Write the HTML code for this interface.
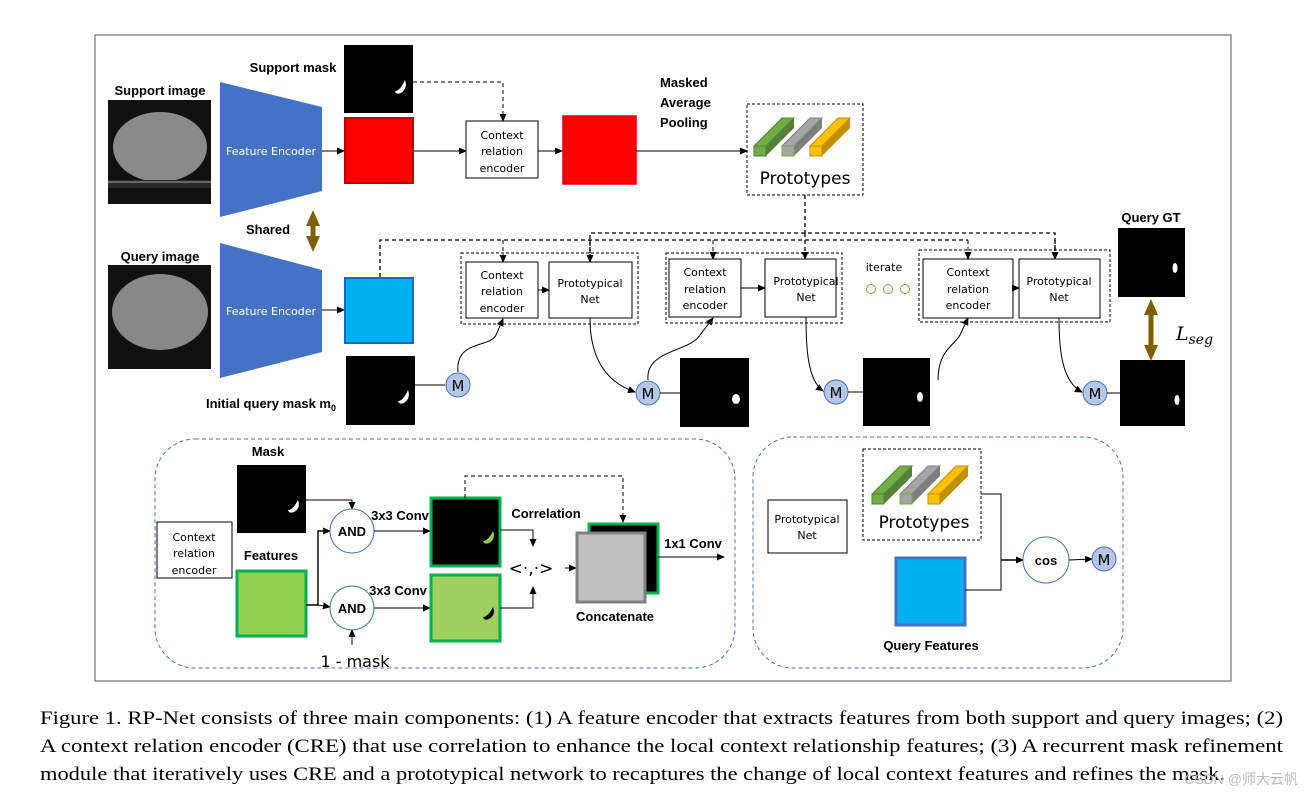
<!DOCTYPE html>
<html><head><meta charset="utf-8"><style>
html,body{margin:0;padding:0;background:#fff;width:1314px;height:797px;overflow:hidden}
svg{display:block}
.b{font-family:"Liberation Sans",sans-serif;font-weight:bold;font-size:13px;fill:#000}
.s{font-family:"DejaVu Sans","Liberation Sans",sans-serif;font-size:11px;fill:#000}
.cap{font-family:"Liberation Serif",serif;font-size:19px;fill:#000}
</style></head><body>
<svg width="1314" height="797" viewBox="0 0 1314 797" xmlns="http://www.w3.org/2000/svg">
<defs>
<marker id="a" markerWidth="8" markerHeight="8" refX="7" refY="4" orient="auto" markerUnits="userSpaceOnUse"><path d="M0,0.5 L8,4 L0,7.5z" fill="#000"/></marker>
<marker id="bu" markerWidth="16" markerHeight="14" refX="8" refY="7" orient="auto-start-reverse" markerUnits="userSpaceOnUse"><path d="M0,0 L16,7 L0,14z" fill="#7f6000"/></marker>
<g id="proto">
<polygon points="0,38 12,38 40,10 28,10" fill="#70ad47" stroke="#548235"/>
<polygon points="12,38 12,48 40,20 40,10" fill="#548235"/>
<rect x="0" y="38" width="12" height="10" fill="#70ad47" stroke="#548235"/>
<polygon points="28,38 40,38 68,10 56,10" fill="#a5a5a5" stroke="#7f7f7f"/>
<polygon points="40,38 40,48 68,20 68,10" fill="#7f7f7f"/>
<rect x="28" y="38" width="12" height="10" fill="#a5a5a5" stroke="#70ad47"/>
<polygon points="56,38 68,38 96,10 84,10" fill="#ffc000" stroke="#bf9000"/>
<polygon points="68,38 68,48 96,20 96,10" fill="#bf9000"/>
<rect x="56" y="38" width="12" height="10" fill="#ffc000" stroke="#bf9000"/>
</g>
</defs>
<rect x="95" y="35" width="1136" height="646" fill="none" stroke="#555" stroke-width="1"/>

<text class="b" x="160" y="95" text-anchor="middle" font-size="12">Support image</text>
<rect x="108" y="100" width="103" height="104" fill="#111"/>
<ellipse cx="160" cy="147" rx="47" ry="35" fill="#8a8a8a"/>
<rect x="108" y="180" width="103" height="8" fill="#2a2a2a"/>
<rect x="108" y="181" width="103" height="2" fill="#666"/>
<text class="b" x="160" y="261" text-anchor="middle" font-size="12">Query image</text>
<rect x="108" y="265" width="103" height="104" fill="#111"/>
<ellipse cx="160" cy="312" rx="48" ry="38" fill="#888"/>
<polygon points="220,82 322,107 322,191 220,217" fill="#4472c4"/>
<text x="271" y="155" text-anchor="middle" font-family="DejaVu Sans,sans-serif" font-size="11" fill="#fff">Feature Encoder</text>
<polygon points="220,243 322,270 322,352 220,378" fill="#4472c4"/>
<text x="271" y="315" text-anchor="middle" font-family="DejaVu Sans,sans-serif" font-size="11" fill="#fff">Feature Encoder</text>
<line x1="313" y1="218" x2="313" y2="244" stroke="#7f6000" stroke-width="5" marker-start="url(#bu)" marker-end="url(#bu)"/>
<text class="b" x="268" y="234" text-anchor="middle" font-size="14">Shared</text>

<text class="b" x="293" y="72" text-anchor="middle" font-size="12">Support mask</text>
<rect x="344" y="45" width="69" height="68" fill="#000"/>
<path d="M405,80 q3,8 -4,13 q-5,2 -6,-2 q5,0 10,-11z" fill="#fff"/>
<line x1="322" y1="151" x2="344" y2="151" stroke="#000" marker-end="url(#a)"/>
<rect x="345" y="118" width="68" height="65" fill="#ff0000" stroke="#c00000" stroke-width="2"/>
<line x1="414" y1="151" x2="466" y2="151" stroke="#000" marker-end="url(#a)"/>
<polyline points="413,82 503,82 503,121" fill="none" stroke="#000" stroke-dasharray="4,3" marker-end="url(#a)"/>
<rect x="466" y="121" width="72" height="57" fill="#fff" stroke="#000"/>
<text class="s" x="502" y="139" text-anchor="middle">Context</text>
<text class="s" x="502" y="155" text-anchor="middle">relation</text>
<text class="s" x="502" y="172" text-anchor="middle">encoder</text>
<line x1="538" y1="151" x2="562" y2="151" stroke="#000" marker-end="url(#a)"/>
<rect x="563" y="116" width="73" height="68" fill="#ff0000" stroke="#e00000" stroke-width="1.5"/>
<line x1="636" y1="151" x2="747" y2="151" stroke="#000" marker-end="url(#a)"/>
<text class="b" x="660" y="87">Masked</text>
<text class="b" x="660" y="107">Average</text>
<text class="b" x="660" y="127">Pooling</text>
<rect x="747" y="104" width="116" height="91" fill="none" stroke="#000" stroke-dasharray="3,2"/>
<use href="#proto" x="754" y="108"/>
<text x="805" y="184" text-anchor="middle" font-family="DejaVu Sans,sans-serif" font-size="17">Prototypes</text>

<polyline points="805,195 805,233" fill="none" stroke="#000" stroke-dasharray="4,3" stroke-width="1.3"/>
<polyline points="590,253 590,233 1055,233 1055,261" fill="none" stroke="#000" stroke-dasharray="4,3" stroke-width="1.3"/>
<line x1="805" y1="233" x2="805" y2="259" stroke="#000" stroke-dasharray="4,3" stroke-width="1.3" marker-end="url(#a)"/>
<line x1="590" y1="240" x2="590" y2="262" stroke="#000" stroke-dasharray="4,3" stroke-width="1.3" marker-end="url(#a)"/>
<line x1="1055" y1="240" x2="1055" y2="259" stroke="#000" stroke-dasharray="4,3" stroke-width="1.3" marker-end="url(#a)"/>
<polyline points="380,277 380,240 968,240" fill="none" stroke="#000" stroke-dasharray="4,3" stroke-width="1.3"/>
<line x1="503" y1="240" x2="503" y2="262" stroke="#000" stroke-dasharray="4,3" marker-end="url(#a)"/>
<line x1="713" y1="240" x2="713" y2="259" stroke="#000" stroke-dasharray="4,3" marker-end="url(#a)"/>
<line x1="968" y1="240" x2="968" y2="259" stroke="#000" stroke-dasharray="4,3" marker-end="url(#a)"/>

<line x1="322" y1="310" x2="344" y2="310" stroke="#000" marker-end="url(#a)"/>
<rect x="345" y="278" width="68" height="65" fill="#00b0f0" stroke="#0070c0" stroke-width="2"/>
<rect x="346" y="356" width="69" height="69" fill="#000"/>
<path d="M408,390 q3,8 -4,13 q-5,2 -6,-2 q5,0 10,-11z" fill="#fff"/>
<text class="b" x="206" y="408" font-size="12">Initial query mask m<tspan font-size="9" dy="3">0</tspan></text>
<line x1="415" y1="385" x2="445" y2="385" stroke="#000"/>

<rect x="461" y="253" width="177" height="71" fill="none" stroke="#000" stroke-dasharray="3,2"/>
<rect x="466" y="262" width="72" height="56" fill="#fff" stroke="#000"/>
<text class="s" x="502" y="279" text-anchor="middle">Context</text>
<text class="s" x="502" y="295" text-anchor="middle">relation</text>
<text class="s" x="502" y="312" text-anchor="middle">encoder</text>
<line x1="538" y1="290" x2="549" y2="290" stroke="#000" marker-end="url(#a)"/>
<rect x="549" y="262" width="83" height="56" fill="#fff" stroke="#000"/>
<text class="s" x="590" y="287" text-anchor="middle">Prototypical</text>
<text class="s" x="590" y="303" text-anchor="middle">Net</text>
<path d="M458,372 C455,340 490,348 496,335 L503,319" fill="none" stroke="#000" marker-end="url(#a)"/>
<path d="M590,318 C590,350 600,380 635,392" fill="none" stroke="#000" marker-end="url(#a)"/>

<rect x="666" y="253" width="176" height="70" fill="none" stroke="#000" stroke-dasharray="3,2"/>
<rect x="669" y="259" width="72" height="58" fill="#fff" stroke="#000"/>
<text class="s" x="705" y="276" text-anchor="middle">Context</text>
<text class="s" x="705" y="293" text-anchor="middle">relation</text>
<text class="s" x="705" y="309" text-anchor="middle">encoder</text>
<line x1="741" y1="288" x2="765" y2="288" stroke="#000" marker-end="url(#a)"/>
<rect x="765" y="259" width="71" height="58" fill="#fff" stroke="#000"/>
<text class="s" x="806" y="285" text-anchor="middle">Prototypical</text>
<text class="s" x="806" y="301" text-anchor="middle">Net</text>
<path d="M648,380 C645,350 690,352 700,335 L713,318" fill="none" stroke="#000" marker-end="url(#a)"/>
<path d="M806,317 C806,350 808,380 823,391" fill="none" stroke="#000" marker-end="url(#a)"/>
<text class="s" x="884" y="271" text-anchor="middle" font-size="12">iterate</text>
<circle cx="871" cy="289" r="4.5" fill="none" stroke="#70ad47"/>
<circle cx="888" cy="289" r="4.5" fill="none" stroke="#70ad47"/>
<circle cx="905" cy="289" r="4.5" fill="none" stroke="#70ad47"/>

<rect x="919" y="250" width="191" height="72" fill="none" stroke="#000" stroke-dasharray="3,2"/>
<rect x="923" y="259" width="90" height="59" fill="#fff" stroke="#000"/>
<text class="s" x="968" y="276" text-anchor="middle">Context</text>
<text class="s" x="968" y="293" text-anchor="middle">relation</text>
<text class="s" x="968" y="309" text-anchor="middle">encoder</text>
<line x1="1013" y1="288" x2="1019" y2="288" stroke="#000" marker-end="url(#a)"/>
<rect x="1019" y="259" width="81" height="59" fill="#fff" stroke="#000"/>
<text class="s" x="1059" y="285" text-anchor="middle">Prototypical</text>
<text class="s" x="1059" y="301" text-anchor="middle">Net</text>
<path d="M938,380 C938,350 955,345 960,335 L968,318" fill="none" stroke="#000" marker-end="url(#a)"/>
<path d="M1059,318 C1059,350 1062,382 1082,392" fill="none" stroke="#000" marker-end="url(#a)"/>

<g font-family="DejaVu Sans,sans-serif" font-size="15" text-anchor="middle">
<circle cx="458" cy="385" r="12" fill="#b4c7e7" stroke="#4472c4"/><text x="458" y="391">M</text>
<circle cx="648" cy="393" r="12" fill="#b4c7e7" stroke="#4472c4"/><text x="648" y="399">M</text>
<circle cx="836" cy="392" r="12" fill="#b4c7e7" stroke="#4472c4"/><text x="836" y="398">M</text>
<circle cx="1095" cy="393" r="12" fill="#b4c7e7" stroke="#4472c4"/><text x="1095" y="399">M</text>
</g>
<line x1="660" y1="393" x2="680" y2="393" stroke="#000"/>
<rect x="680" y="358" width="69" height="69" fill="#000"/>
<ellipse cx="736" cy="399" rx="4" ry="5" fill="#fff"/>
<line x1="848" y1="392" x2="863" y2="392" stroke="#000"/>
<rect x="863" y="358" width="67" height="68" fill="#000"/>
<ellipse cx="920" cy="397" rx="3" ry="5" fill="#fff"/>
<line x1="1107" y1="393" x2="1120" y2="393" stroke="#000"/>
<rect x="1120" y="360" width="65" height="66" fill="#000"/>
<ellipse cx="1177" cy="400" rx="2.5" ry="5" fill="#fff"/>
<text class="b" x="1151" y="222" text-anchor="middle" font-size="13">Query GT</text>
<rect x="1118" y="228" width="67" height="69" fill="#000"/>
<ellipse cx="1175" cy="268" rx="2.5" ry="5" fill="#fff"/>
<line x1="1151" y1="307" x2="1151" y2="353" stroke="#7f6000" stroke-width="5" marker-start="url(#bu)" marker-end="url(#bu)"/>
<text x="1176" y="340" font-family="DejaVu Serif,serif" font-style="italic" font-size="19">L<tspan font-size="14" dy="4">seg</tspan></text>

<rect x="155" y="439" width="580" height="229" rx="40" fill="none" stroke="#4472c4" stroke-dasharray="4,3"/>
<rect x="157" y="522" width="75" height="56" fill="#fff" stroke="#000"/>
<text class="s" x="194" y="541" text-anchor="middle">Context</text>
<text class="s" x="194" y="557" text-anchor="middle">relation</text>
<text class="s" x="194" y="574" text-anchor="middle">encoder</text>
<text class="b" x="268" y="456" text-anchor="middle" font-size="14">Mask</text>
<rect x="237" y="465" width="69" height="68" fill="#000"/>
<path d="M298,500 q3,8 -4,12 q-5,2 -6,-2 q5,0 10,-10z" fill="#fff"/>
<text class="b" x="271" y="560" text-anchor="middle" font-size="14">Features</text>
<rect x="237" y="571" width="69" height="65" fill="#92d050" stroke="#00b050" stroke-width="3"/>
<polyline points="306,500 352,500 352,509" fill="none" stroke="#000" marker-end="url(#a)"/>
<polyline points="306,605 318,605 318,531 330,531" fill="none" stroke="#000" stroke-width="1.4" marker-end="url(#a)"/>
<line x1="318" y1="605" x2="330" y2="607" stroke="#000" marker-end="url(#a)"/>
<circle cx="352" cy="531" r="22" fill="#fff" stroke="#4472c4"/>
<text class="b" x="352" y="536" text-anchor="middle" font-size="14">AND</text>
<circle cx="352" cy="608" r="22" fill="#fff" stroke="#4472c4"/>
<text class="b" x="352" y="613" text-anchor="middle" font-size="14">AND</text>
<line x1="352" y1="645" x2="352" y2="630" stroke="#000" marker-end="url(#a)"/>
<text x="355" y="667" text-anchor="middle" font-family="DejaVu Sans,sans-serif" font-size="16">1 - mask</text>
<text class="b" x="400" y="520" text-anchor="middle" font-size="11">3x3 Conv</text>
<text class="b" x="398" y="595" text-anchor="middle" font-size="11">3x3 Conv</text>
<line x1="374" y1="531" x2="430" y2="531" stroke="#000" marker-end="url(#a)"/>
<line x1="374" y1="608" x2="430" y2="608" stroke="#000" marker-end="url(#a)"/>
<rect x="431" y="498" width="69" height="68" fill="#000" stroke="#00b050" stroke-width="3"/>
<path d="M493,531 q3,8 -4,12 q-5,2 -6,-2 q5,0 10,-10z" fill="#92d050"/>
<rect x="431" y="575" width="69" height="66" fill="#9fcf5f" stroke="#00b050" stroke-width="3"/>
<path d="M493,607 q3,8 -4,12 q-5,2 -6,-2 q5,0 10,-10z" fill="#000"/>
<text class="b" x="546" y="518" text-anchor="middle" font-size="14">Correlation</text>
<polyline points="500,530 533,530 533,546" fill="none" stroke="#000" marker-end="url(#a)"/>
<polyline points="500,608 533,608 533,587" fill="none" stroke="#000" marker-end="url(#a)"/>
<text x="531" y="574" text-anchor="middle" font-family="DejaVu Sans,sans-serif" font-size="17">&lt;·,·&gt;</text>
<polyline points="465,498 465,476 623,476 623,522" fill="none" stroke="#000" stroke-dasharray="4,3" marker-end="url(#a)"/>
<line x1="565" y1="568" x2="576" y2="568" stroke="#000" marker-end="url(#a)"/>
<rect x="589" y="524" width="69" height="69" fill="#000" stroke="#00b050" stroke-width="3"/>
<rect x="577" y="533" width="68" height="69" fill="#bfbfbf" stroke="#808080" stroke-width="3"/>
<text class="b" x="693" y="548" text-anchor="middle" font-size="14">1x1 Conv</text>
<line x1="658" y1="557" x2="724" y2="557" stroke="#000" marker-end="url(#a)"/>
<text class="b" x="615" y="621" text-anchor="middle" font-size="14">Concatenate</text>

<rect x="753" y="437" width="370" height="231" rx="40" fill="none" stroke="#4472c4" stroke-dasharray="4,3"/>
<rect x="768" y="500" width="79" height="53" fill="#fff" stroke="#000"/>
<text class="s" x="807" y="523" text-anchor="middle">Prototypical</text>
<text class="s" x="807" y="539" text-anchor="middle">Net</text>
<rect x="863" y="449" width="118" height="91" fill="none" stroke="#000" stroke-dasharray="3,2"/>
<use href="#proto" x="872" y="456"/>
<text x="924" y="528" text-anchor="middle" font-family="DejaVu Sans,sans-serif" font-size="17">Prototypes</text>
<rect x="896" y="558" width="69" height="67" fill="#00b0f0" stroke="#4472c4" stroke-width="3"/>
<text class="b" x="931" y="650" text-anchor="middle" font-size="13">Query Features</text>
<polyline points="981,494 1001,494 1001,590 965,590" fill="none" stroke="#000"/>
<line x1="1001" y1="560" x2="1023" y2="560" stroke="#000" stroke-width="1.4" marker-end="url(#a)"/>
<circle cx="1046" cy="560" r="23" fill="#fff" stroke="#4472c4"/>
<text class="b" x="1046" y="565" text-anchor="middle" font-size="13">cos</text>
<line x1="1069" y1="560" x2="1092" y2="559" stroke="#000" marker-end="url(#a)"/>
<circle cx="1104" cy="559" r="12" fill="#b4c7e7" stroke="#4472c4"/>
<text x="1104" y="565" text-anchor="middle" font-family="DejaVu Sans,sans-serif" font-size="15">M</text>

<text class="cap" x="40" y="724" textLength="1243" lengthAdjust="spacingAndGlyphs">Figure 1. RP-Net consists of three main components: (1) A feature encoder that extracts features from both support and query images; (2)</text>
<text class="cap" x="40" y="752" textLength="1243" lengthAdjust="spacingAndGlyphs">A context relation encoder (CRE) that use correlation to enhance the local context relationship features; (3) A recurrent mask refinement</text>
<text class="cap" x="40" y="780" textLength="1185" lengthAdjust="spacingAndGlyphs">module that iteratively uses CRE and a prototypical network to recaptures the change of local context features and refines the mask.</text>
<text x="1298" y="784" text-anchor="end" font-family="Liberation Sans,Noto Sans CJK SC,sans-serif" font-size="14" fill="#bbb">CSDN @师大云帆</text>
</svg>
</body></html>
